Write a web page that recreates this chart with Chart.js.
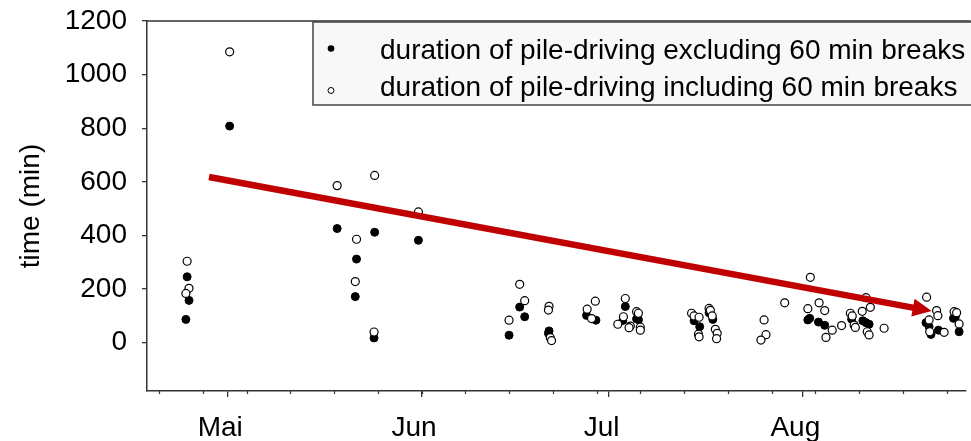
<!DOCTYPE html>
<html><head><meta charset="utf-8">
<script src="https://cdn.jsdelivr.net/npm/chart.js@4/dist/chart.umd.min.js"></script>
<style>html,body{margin:0;padding:0;background:#fff;overflow:hidden}#wrap{width:971px;height:441px;position:relative}</style>
</head><body><div id="wrap"><canvas id="c" width="971" height="441"></canvas></div>
<script>
// x values: days counted from 1 May (0 = 1 May)
const monthTicks = [0, 31, 61, 92];
const monthLabels = ['Mai', 'Jun', 'Jul', 'Aug'];
const weekTicks = [-11, -4, 3, 10, 17, 24, 31, 38, 45, 52, 59, 66, 73, 80, 87, 94, 101, 108, 115];
const yTicks = [0, 200, 400, 600, 800, 1000, 1200];
const seriesLabels = ['duration of pile-driving excluding 60 min breaks', 'duration of pile-driving including 60 min breaks'];

const exclDays = [-6.5, -6.2, -6.7, 0.3, 17.5, 20.6, 20.4, 23.5, 23.4, 30.5,
  45.0, 46.7, 47.5, 51.4, 51.3, 57.4, 58.9, 63.6, 63.2, 65.4, 65.7,
  74.6, 75.5, 77.0, 77.6, 92.8, 93.1, 94.5, 95.5,
  99.8, 101.6, 102.1, 102.6, 111.7, 112.2, 112.5, 113.7, 116.1, 116.4, 117.0];
const exclMin = [246, 158, 87, 808, 426, 312, 172, 412, 18, 382,
  28, 133, 97, 44, 35, 102, 84, 135, 83, 89, 86,
  82, 60, 112, 87, 85, 91, 77, 65,
  88, 82, 75, 69, 75, 60, 31, 47, 91, 97, 41];

const inclDays = [-6.5, -6.2, -6.7, 0.3, 17.5, 20.6, 20.4, 23.5, 23.4, 30.5,
  45.0, 46.7, 47.5, 51.4, 51.3, 51.6, 51.8,
  57.5, 58.2, 58.8,
  63.6, 63.3, 62.4, 64.4, 64.2, 65.4, 65.7, 66.0, 66.0,
  74.2, 74.6, 75.4, 75.3, 75.4, 77.0, 77.2, 77.5, 78.0, 78.3, 78.2,
  85.8, 86.1, 85.3, 89.1,
  93.2, 92.8, 94.6, 95.5, 96.7, 95.7, 98.2,
  99.6, 99.9, 100.2, 100.4, 101.5, 102.1, 102.8, 102.3, 102.6, 105.0,
  111.8, 113.4, 113.6, 112.2, 112.3, 114.6,
  116.2, 116.6, 117.0];
const inclMin = [304, 203, 184, 1085, 586, 386, 228, 624, 40, 488,
  84, 218, 157, 136, 122, 19, 8,
  125, 90, 155,
  165, 97, 69, 62, 56, 116, 110, 58, 47,
  110, 100, 95, 32, 22, 128, 121, 100, 50, 35, 15,
  85, 30, 10, 149,
  244, 127, 149, 120, 47, 20, 64,
  110, 100, 66, 57, 117, 168, 132, 41, 29, 54,
  170, 120, 101, 85, 41, 39,
  116, 112, 70];

const trendDays = [-3, 112.6];
const trendMin = [618, 118];

const FONT = '"Liberation Sans", Arial, sans-serif';
const pts = (xs, ys) => xs.map((x, i) => ({x: x, y: ys[i]}));

const decor = {
  id: 'decor',
  beforeDatasetDraw(chart, args) {
    if (args.index !== 0) return;
    const ctx = chart.ctx;
    const m = chart.getDatasetMeta(0).data;
    const p0 = m[0], p1 = m[m.length - 1];
    const dx = p1.x - p0.x, dy = p1.y - p0.y, L = Math.hypot(dx, dy);
    const ux = dx / L, uy = dy / L, nx = -uy, ny = ux, B = 3000;
    const bx = p1.x - ux * 18, by = p1.y - uy * 18;
    ctx.save();
    ctx.beginPath();
    ctx.moveTo(bx + nx * B, by + ny * B);
    ctx.lineTo(bx - nx * B, by - ny * B);
    ctx.lineTo(bx - nx * B - ux * B, by - ny * B - uy * B);
    ctx.lineTo(bx + nx * B - ux * B, by + ny * B - uy * B);
    ctx.closePath();
    ctx.clip();
  },
  afterDatasetDraw(chart, args) {
    if (args.index !== 0) return;
    const ctx = chart.ctx;
    ctx.restore();
    const m = chart.getDatasetMeta(0).data;
    const p0 = m[0], p1 = m[m.length - 1];
    const dx = p1.x - p0.x, dy = p1.y - p0.y, L = Math.hypot(dx, dy);
    const ux = dx / L, uy = dy / L, nx = -uy, ny = ux;
    const bx = p1.x - ux * 19, by = p1.y - uy * 19;
    ctx.save();
    ctx.fillStyle = '#c00000';
    ctx.beginPath();
    ctx.moveTo(p1.x, p1.y);
    ctx.lineTo(bx + nx * 9, by + ny * 9);
    ctx.lineTo(bx - nx * 9, by - ny * 9);
    ctx.closePath();
    ctx.fill();
    ctx.restore();
  },
  afterDraw(chart) {
    const ctx = chart.ctx, a = chart.chartArea, xs = chart.scales.x;
    ctx.save();
    // top frame line
    ctx.strokeStyle = '#333';
    ctx.lineWidth = 1.5;
    ctx.beginPath();
    ctx.moveTo(a.left, a.top);
    ctx.lineTo(a.right + 5, a.top);
    ctx.stroke();
    // weekly minor ticks
    ctx.lineWidth = 1.2;
    weekTicks.forEach(v => {
      const x = Math.round(xs.getPixelForValue(v)) + 0.5;
      ctx.beginPath();
      ctx.moveTo(x, a.bottom);
      ctx.lineTo(x, a.bottom + 3);
      ctx.stroke();
    });
    // legend box
    const lx = 313, ly = 22, lh = 83;
    ctx.fillStyle = '#f8f8f8';
    ctx.fillRect(lx, ly, 700, lh);
    ctx.strokeStyle = '#444';
    ctx.lineWidth = 1.5;
    ctx.strokeRect(lx, ly, 700, lh);
    ctx.fillStyle = '#000';
    ctx.beginPath(); ctx.arc(331, 48.5, 3.3, 0, Math.PI * 2); ctx.fill();
    ctx.fillStyle = '#fff'; ctx.strokeStyle = '#000'; ctx.lineWidth = 1;
    ctx.beginPath(); ctx.arc(331, 90.5, 3, 0, Math.PI * 2); ctx.fill(); ctx.stroke();
    ctx.fillStyle = '#000';
    ctx.font = '28px ' + FONT;
    ctx.textBaseline = 'alphabetic';
    ctx.textAlign = 'left';
    ctx.fillText(chart.data.datasets[2].label, 380, 58.5);
    ctx.fillText(chart.data.datasets[1].label, 380, 95.5);
    ctx.restore();
  }
};

new Chart(document.getElementById('c'), {
  type: 'scatter',
  data: {
    datasets: [
      {label: 'trend', type: 'line', data: pts(trendDays, trendMin), borderColor: '#c00000', borderWidth: 6.5,
        pointRadius: 0, fill: false, order: 0, borderCapStyle: 'butt', clip: false, tension: 0},
      {label: seriesLabels[1], data: pts(inclDays, inclMin), pointRadius: 4, pointBackgroundColor: '#fff',
        pointBorderColor: '#000', pointBorderWidth: 1.2, order: 1, clip: false},
      {label: seriesLabels[0], data: pts(exclDays, exclMin), pointRadius: 4, pointBackgroundColor: '#000',
        pointBorderColor: '#000', pointBorderWidth: 1, order: 2, clip: false}
    ]
  },
  options: {
    responsive: false,
    animation: false,
    devicePixelRatio: 1,
    layout: {padding: {top: 21, left: 0, right: 0, bottom: 0}},
    plugins: {legend: {display: false}, tooltip: {enabled: false}},
    scales: {
      x: {
        type: 'linear', min: -12.92, max: 118.07,
        afterBuildTicks: s => { s.ticks = monthTicks.map(v => ({value: v})); },
        afterFit: s => { s.height = 50; s.paddingLeft = 0; s.paddingRight = 0; },
        grid: {drawOnChartArea: false, drawTicks: true, tickLength: 6, color: '#333', lineWidth: 1.3},
        border: {display: true, color: '#333', width: 1.5},
        ticks: {autoSkip: false, maxRotation: 0, minRotation: 0, padding: 14.5, labelOffset: -7.5, color: '#000',
          font: {family: FONT, size: 28}, callback: (v, i) => monthLabels[i]}
      },
      y: {
        min: -180, max: 1200,
        afterBuildTicks: s => { s.ticks = yTicks.map(v => ({value: v})); },
        afterFit: s => { s.width = 147; s.paddingTop = 0; s.paddingBottom = 0; },
        grid: {drawOnChartArea: false, drawTicks: true, tickLength: 5, color: '#333', lineWidth: 1.3},
        border: {display: true, color: '#333', width: 1.5},
        ticks: {padding: 15, color: '#000', font: {family: FONT, size: 28}, callback: v => String(v)},
        title: {display: true, text: 'time (min)', color: '#000', font: {family: FONT, size: 28}, padding: {top: 14, bottom: 0}}
      }
    }
  },
  plugins: [decor]
});
</script>
</body></html>
